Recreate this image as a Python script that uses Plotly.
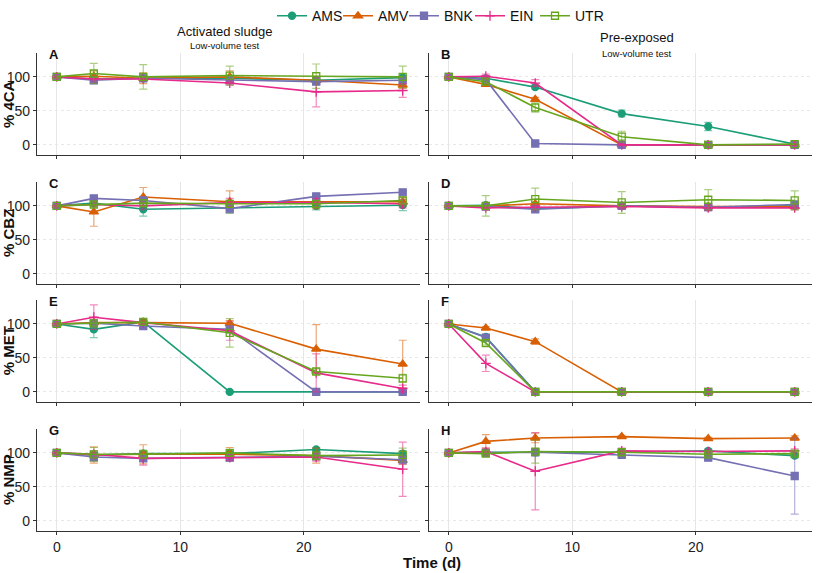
import plotly.graph_objects as go

W, H = 817, 573

days = [0, 3, 7, 14, 21, 28]
series = ["AMS", "AMV", "BNK", "EIN", "UTR"]
compounds = ["% 4CA", "% CBZ", "% MET", "% NMP"]
panel_letters = [["A", "B"], ["C", "D"], ["E", "F"], ["G", "H"]]
x_ticks = [0, 10, 20]
y_ticks = [0, 50, 100]

# ---- values (mean %) per panel ----
A = {"AMS": [100, 97, 98, 98, 95, 99], "AMV": [100, 101, 98, 100, 95, 88],
     "BNK": [100, 95, 98, 95, 93, 95], "EIN": [100, 97, 97, 91, 78, 80],
     "UTR": [100, 105, 100, 102, 101, 100]}
A_err = {"AMS": [2, 3, 3, 3, 4, 3], "AMV": [2, 8, 8, 9, 6, 5],
         "BNK": [2, 4, 3, 4, 4, 4], "EIN": [2, 3, 3, 3, 22, 10],
         "UTR": [2, 15, 18, 14, 18, 16]}
B = {"AMS": [100, 98, 85, 46, 27, 1], "AMV": [100, 89, 67, 0, 0, 0],
     "BNK": [100, 96, 2, 0, 0, 0], "EIN": [100, 101, 91, 0, 0, 0],
     "UTR": [100, 93, 55, 12, 0, 1]}
B_err = {"AMS": [1, 2, 3, 5, 6, 1], "AMV": [1, 2, 3, 1, 1, 1],
         "BNK": [1, 2, 2, 1, 1, 1], "EIN": [1, 3, 5, 1, 1, 1],
         "UTR": [1, 3, 7, 8, 2, 1]}
C = {"AMS": [100, 104, 95, 97, 100, 101], "AMV": [100, 91, 113, 106, 106, 106],
     "BNK": [100, 111, 108, 96, 114, 120], "EIN": [100, 102, 100, 105, 105, 103],
     "UTR": [100, 102, 104, 103, 103, 108]}
C_err = {"AMS": [2, 4, 10, 8, 6, 8], "AMV": [2, 21, 14, 16, 10, 6],
         "BNK": [2, 3, 4, 5, 3, 2], "EIN": [2, 4, 5, 6, 6, 6],
         "UTR": [2, 3, 4, 5, 4, 4]}
D = {"AMS": [100, 101, 96, 100, 98, 100], "AMV": [100, 100, 103, 100, 99, 99],
     "BNK": [100, 99, 95, 100, 98, 102], "EIN": [100, 97, 98, 99, 97, 97],
     "UTR": [100, 100, 110, 105, 109, 108]}
D_err = {"AMS": [1, 3, 3, 3, 3, 3], "AMV": [1, 3, 3, 3, 3, 3],
         "BNK": [1, 3, 3, 3, 3, 3], "EIN": [1, 3, 3, 3, 4, 3],
         "UTR": [1, 15, 16, 16, 15, 14]}
E = {"AMS": [100, 92, 103, 0, 0, 0], "AMV": [100, 102, 102, 101, 63, 41],
     "BNK": [100, 101, 97, 92, 0, 0], "EIN": [100, 110, 102, 90, 28, 5],
     "UTR": [100, 101, 103, 87, 30, 20]}
E_err = {"AMS": [2, 12, 3, 1, 1, 1], "AMV": [2, 3, 3, 4, 36, 35],
         "BNK": [2, 3, 3, 4, 1, 1], "EIN": [2, 18, 3, 14, 28, 5],
         "UTR": [2, 3, 3, 21, 4, 6]}
F = {"AMS": [100, 81, 0, 0, 0, 0], "AMV": [100, 94, 74, 0, 0, 0],
     "BNK": [100, 80, 0, 0, 0, 0], "EIN": [100, 42, 0, 0, 0, 0],
     "UTR": [100, 72, 0, 0, 0, 0]}
F_err = {"AMS": [1, 3, 1, 1, 1, 1], "AMV": [1, 2, 4, 1, 1, 1],
         "BNK": [1, 3, 1, 1, 1, 1], "EIN": [1, 12, 1, 1, 1, 1],
         "UTR": [1, 3, 1, 1, 1, 1]}
G = {"AMS": [100, 97, 99, 99, 105, 99], "AMV": [100, 97, 98, 98, 96, 89],
     "BNK": [100, 94, 92, 93, 95, 90], "EIN": [100, 98, 92, 93, 94, 76],
     "UTR": [100, 98, 98, 100, 96, 97]}
G_err = {"AMS": [2, 4, 3, 3, 3, 4], "AMV": [2, 12, 14, 10, 11, 6],
         "BNK": [2, 6, 4, 4, 4, 6], "EIN": [2, 5, 10, 4, 6, 40],
         "UTR": [2, 10, 6, 4, 6, 10]}
Hp = {"AMS": [100, 101, 101, 101, 103, 96], "AMV": [100, 117, 122, 124, 121, 122],
      "BNK": [100, 100, 101, 97, 93, 66], "EIN": [100, 102, 73, 103, 102, 103],
      "UTR": [100, 99, 102, 101, 98, 99]}
Hp_err = {"AMS": [1, 3, 3, 3, 3, 3], "AMV": [1, 10, 7, 2, 2, 3],
          "BNK": [1, 3, 4, 3, 3, 56], "EIN": [1, 5, 57, 4, 3, 3],
          "UTR": [1, 3, 17, 3, 3, 3]}

panels = [[(A, A_err), (B, B_err)], [(C, C_err), (D, D_err)],
          [(E, E_err), (F, F_err)], [(G, G_err), (Hp, Hp_err)]]

colors = {"AMS": "#1B9E77", "AMV": "#D95F02", "BNK": "#7570B3",
          "EIN": "#E7298A", "UTR": "#66A61E"}
err_colors = {"AMS": "rgba(27,158,119,0.55)", "AMV": "rgba(217,95,2,0.55)",
              "BNK": "rgba(117,112,179,0.55)", "EIN": "rgba(231,41,138,0.55)",
              "UTR": "rgba(102,166,30,0.55)"}
symbols = {"AMS": "circle", "AMV": "triangle-up", "BNK": "square",
           "EIN": "cross-thin", "UTR": "square-open"}
msize = {"AMS": 7, "AMV": 8, "BNK": 7, "EIN": 7, "UTR": 7}
legend_w = {"AMS": 21, "AMV": 21, "BNK": 21, "EIN": 20, "UTR": 32}

FONT = "Liberation Sans, Arial, sans-serif"

# layout geometry in pixels
col_px = [(37, 420), (429, 812)]
zero_px = [138, 269, 389, 520]
ppu = 0.69
yr = [-15, 135]
xr = [-1.6, 29.4]

fig = go.Figure()
layout = {}
for r in range(4):
    bottom = zero_px[r] + 15 * ppu
    top = bottom - 150 * ppu
    for c in range(2):
        idx = r * 2 + c + 1
        xa = "xaxis" if idx == 1 else f"xaxis{idx}"
        ya = "yaxis" if idx == 1 else f"yaxis{idx}"
        xref = "x" if idx == 1 else f"x{idx}"
        yref = "y" if idx == 1 else f"y{idx}"
        layout[xa] = dict(domain=[col_px[c][0] / W, col_px[c][1] / W], range=xr,
                          anchor=yref, tickvals=x_ticks, showticklabels=(r == 3),
                          ticks="outside", ticklen=3, tickcolor="#333",
                          showline=True, linecolor="#333", linewidth=1.2,
                          showgrid=True, gridcolor="#e6e6e6", gridwidth=1,
                          zeroline=False, tickfont=dict(size=14, color="#222", family=FONT))
        layout[ya] = dict(domain=[1 - bottom / H, 1 - top / H], range=yr,
                          anchor=xref, tickvals=y_ticks, showticklabels=(c == 0),
                          ticks="outside", ticklen=3, tickcolor="#333",
                          showline=True, linecolor="#333", linewidth=1.2,
                          showgrid=True, gridcolor="#e8e8e8", gridwidth=1, griddash="dot",
                          zeroline=False, tickfont=dict(size=14, color="#222", family=FONT))
        vals, errs = panels[r][c]
        for s in series:
            fig.add_trace(go.Scatter(
                x=days, y=vals[s], mode="lines+markers", name=s,
                legendgroup=s, showlegend=(idx == 1), legendwidth=legend_w[s],
                line=dict(color=colors[s], width=1.6),
                marker=dict(symbol=symbols[s], size=msize[s], color=colors[s],
                            line=dict(color=colors[s], width=1.3)),
                error_y=dict(type="data", array=errs[s], visible=True,
                             color=err_colors[s], thickness=1.2, width=4),
                xaxis=xref, yaxis=yref))

annotations = []
for r in range(4):
    bottom = zero_px[r] + 15 * ppu
    top = bottom - 150 * ppu
    annotations.append(dict(text=f"<b>{compounds[r]}</b>", x=8 / W, y=1 - (top + bottom) / 2 / H,
                            xref="paper", yref="paper", showarrow=False, textangle=-90,
                            font=dict(size=15, family=FONT, color="#111"),
                            xanchor="center", yanchor="middle"))
    for c in range(2):
        annotations.append(dict(text=f"<b>{panel_letters[r][c]}</b>",
                                x=(col_px[c][0] + 10) / W, y=1 - (top + 1) / H,
                                xref="paper", yref="paper", showarrow=False,
                                font=dict(size=13, family=FONT, color="#111"),
                                xanchor="left", yanchor="middle"))

annotations += [
    dict(text="Activated sludge", x=225 / W, y=1 - 23 / H, xref="paper", yref="paper",
         showarrow=False, font=dict(size=13, family=FONT, color="#111"),
         xanchor="center", yanchor="middle"),
    dict(text="Low-volume test", x=225 / W, y=1 - 37 / H, xref="paper", yref="paper",
         showarrow=False, font=dict(size=9.5, family=FONT, color="#111"),
         xanchor="center", yanchor="middle"),
    dict(text="Pre-exposed", x=637 / W, y=1 - 29 / H, xref="paper", yref="paper",
         showarrow=False, font=dict(size=13, family=FONT, color="#111"),
         xanchor="center", yanchor="middle"),
    dict(text="Low-volume test", x=637 / W, y=1 - 45 / H, xref="paper", yref="paper",
         showarrow=False, font=dict(size=9.5, family=FONT, color="#111"),
         xanchor="center", yanchor="middle"),
    dict(text="<b>Time (d)</b>", x=432 / W, y=1 - 562 / H, xref="paper", yref="paper",
         showarrow=False, font=dict(size=15, family=FONT, color="#111"),
         xanchor="center", yanchor="middle"),
]

fig.update_layout(
    width=W, height=H, margin=dict(l=0, r=0, t=0, b=0),
    paper_bgcolor="white", plot_bgcolor="white",
    font=dict(family=FONT, size=14, color="#111"),
    legend=dict(orientation="h", x=442 / W, xanchor="center", y=1.0 + 9 / H, yanchor="top",
                font=dict(size=14, family=FONT), itemwidth=30, bgcolor="rgba(0,0,0,0)",
                tracegroupgap=0),
    annotations=annotations,
    **layout,
)

fig.write_html("out.html", config={"displayModeBar": False},
               post_script="document.body.style.margin='0';document.body.style.overflow='hidden';")
